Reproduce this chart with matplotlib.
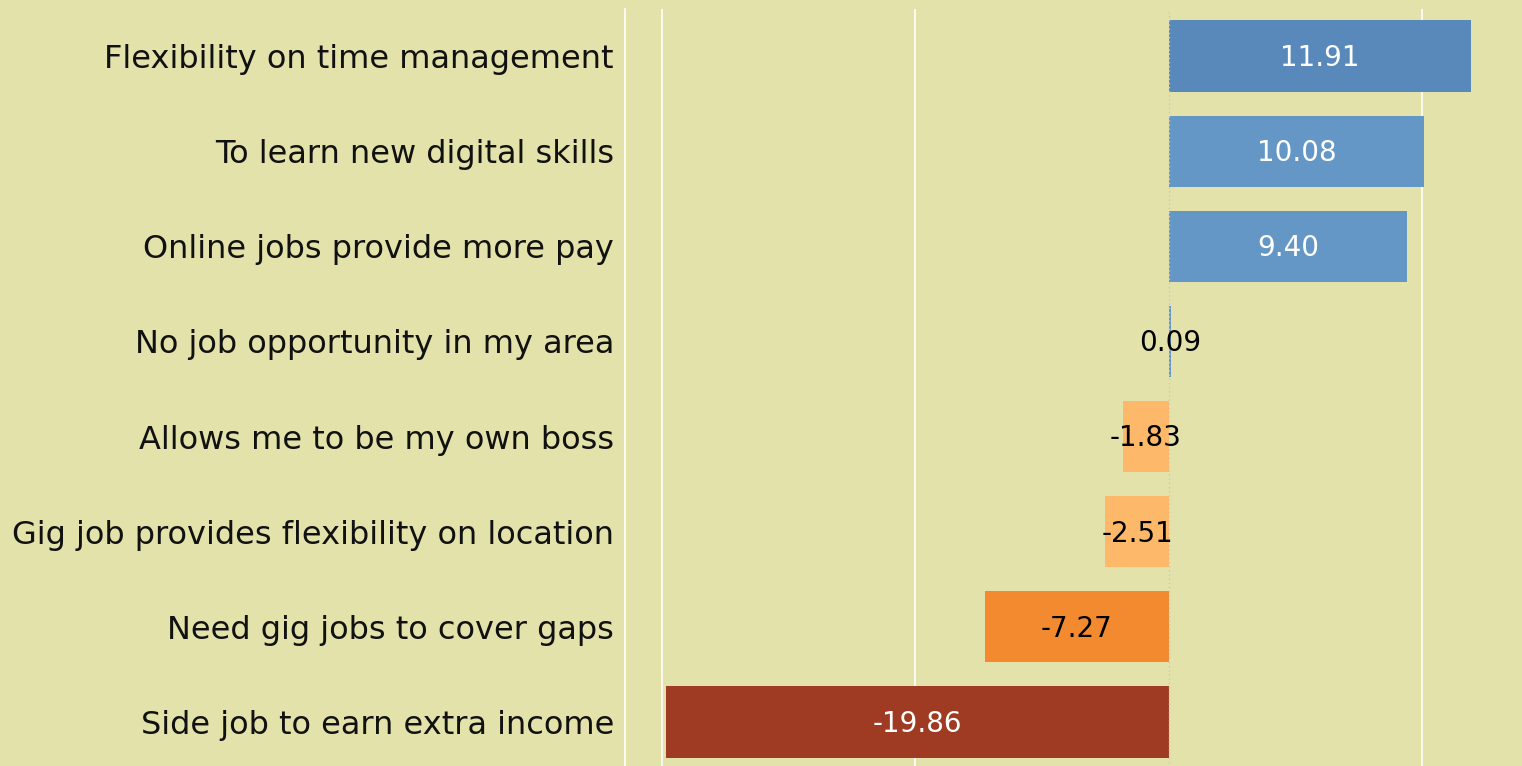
import numpy as np
import matplotlib
matplotlib.use('Agg')
import matplotlib.pyplot as plt

# reasons for taking gig jobs, score difference
categories = ['Flexibility on time management', 'To learn new digital skills',
              'Online jobs provide more pay', 'No job opportunity in my area',
              'Allows me to be my own boss', 'Gig job provides flexibility on location',
              'Need gig jobs to cover gaps', 'Side job to earn extra income']
values = [11.91, 10.08, 9.40, 0.09, -1.83, -2.51, -7.27, -19.86]
bar_colors = ['#5889BA', '#6497C6', '#6497C6', '#6497C6',
              '#FDB86A', '#FDB86A', '#F38A30', '#9E3B22']
text_colors = ['white', 'white', 'white', 'black', 'black', 'black', 'black', 'white']
grid_ticks = [-20, -10, 10]

bg = '#E2E2AA'
plt.rcParams['font.family'] = ['DejaVu Sans']

fig = plt.figure(figsize=(15.22, 7.66), dpi=100, facecolor=bg)
ax = fig.add_axes([625 / 1522, -3.5 / 766, 1 - 625 / 1522, 761 / 766])
ax.set_facecolor(bg)

y = np.arange(len(categories))
ax.barh(y, values, height=0.75, color=bar_colors, zorder=3)
for yi, v, tc in zip(y, values, text_colors):
    ax.text(v / 2, yi + 0.02, f'{v:.2f}', ha='center', va='center', color=tc,
            fontsize=20, zorder=4)

ax.set_xlim(-21.46, 13.93)
ax.set_ylim(len(categories) - 0.5, -0.5)

for g in grid_ticks:
    ax.axvline(g, color='white', lw=1.2, zorder=1)
ax.axvline(0, color='#C8C8C8', lw=1, ls=(0, (1, 2)), zorder=3.5)

for s in ['top', 'right', 'bottom']:
    ax.spines[s].set_visible(False)
ax.spines['left'].set_color('white')
ax.spines['left'].set_linewidth(1.2)
ax.set_xticks([])
ax.set_yticks(y)
ax.set_yticklabels(categories, fontsize=23, color='#111111')
ax.tick_params(axis='y', length=0, pad=8)

fig.savefig('out.png', dpi=100, facecolor=bg)
